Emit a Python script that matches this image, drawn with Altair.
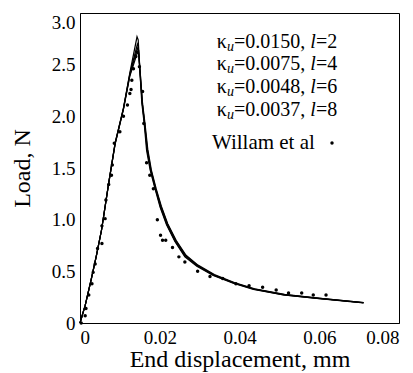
import altair as alt
import pandas as pd

FONT = "Liberation Serif"

# Willam et al experimental points
will_x = [0.0003, 0.0013, 0.0015, 0.0022, 0.0030, 0.0033, 0.0038, 0.0044, 0.0055, 0.0055,
          0.0063, 0.0065, 0.0072, 0.0079, 0.0081, 0.0086, 0.0100, 0.0109, 0.0119, 0.0125,
          0.0128, 0.0130, 0.0134, 0.0140, 0.0144, 0.0149, 0.0157, 0.0160, 0.0167, 0.0175,
          0.0184, 0.0194, 0.0202, 0.0207, 0.0215, 0.0232, 0.0248, 0.0263, 0.0295, 0.0326,
          0.0358, 0.0391, 0.0424, 0.0458, 0.0492, 0.0523, 0.0556, 0.0585, 0.0617]
will_y = [0.00, 0.07, 0.14, 0.27, 0.38, 0.49, 0.57, 0.72, 0.77, 0.94,
          1.01, 1.19, 1.34, 1.43, 1.53, 1.74, 1.85, 2.00, 2.11, 2.22,
          2.26, 2.35, 2.46, 2.58, 2.62, 2.48, 2.24, 1.93, 1.55, 1.43,
          1.30, 1.00, 0.85, 0.80, 0.80, 0.73, 0.64, 0.59, 0.50, 0.45,
          0.43, 0.38, 0.36, 0.345, 0.32, 0.29, 0.29, 0.27, 0.27]

# model curves
l2_x = [0, 0.0013, 0.0028, 0.0041, 0.0054, 0.0071, 0.0088, 0.0109, 0.0125, 0.0143,
        0.0146, 0.0150, 0.0155, 0.0161, 0.0167, 0.0176, 0.0188, 0.0201, 0.0217, 0.0238,
        0.0263, 0.0293, 0.0334, 0.0384, 0.0435, 0.0510, 0.0594, 0.0677, 0.0711]
l2_y = [0, 0.17, 0.42, 0.65, 0.90, 1.33, 1.74, 2.08, 2.42, 2.77,
        2.74, 2.45, 2.13, 1.93, 1.67, 1.48, 1.30, 1.12, 0.95, 0.79,
        0.64, 0.55, 0.46, 0.385, 0.325, 0.272, 0.238, 0.207, 0.195]

l4_x = [0, 0.0013, 0.0028, 0.0041, 0.0054, 0.0071, 0.0088, 0.0109, 0.0125, 0.0144,
        0.0146, 0.0150, 0.0156, 0.0162, 0.0168, 0.0177, 0.0189, 0.0202, 0.0218, 0.0239,
        0.0264, 0.0294, 0.0335, 0.0385, 0.0436, 0.0511, 0.0595, 0.0678, 0.0711]
l4_y = [0, 0.17, 0.42, 0.65, 0.90, 1.33, 1.74, 2.08, 2.41, 2.70,
        2.68, 2.44, 2.13, 1.93, 1.68, 1.48, 1.30, 1.12, 0.95, 0.79,
        0.645, 0.553, 0.462, 0.387, 0.327, 0.273, 0.239, 0.208, 0.196]

l6_x = [0, 0.0013, 0.0028, 0.0041, 0.0054, 0.0071, 0.0088, 0.0109, 0.0125, 0.0144,
        0.0147, 0.0151, 0.0156, 0.0162, 0.0169, 0.0178, 0.0190, 0.0203, 0.0219, 0.0240,
        0.0265, 0.0295, 0.0336, 0.0386, 0.0437, 0.0512, 0.0596, 0.0679, 0.0711]
l6_y = [0, 0.17, 0.42, 0.65, 0.90, 1.33, 1.73, 2.07, 2.40, 2.66,
        2.64, 2.43, 2.13, 1.93, 1.68, 1.48, 1.30, 1.13, 0.96, 0.80,
        0.65, 0.556, 0.465, 0.39, 0.329, 0.275, 0.240, 0.209, 0.197]

l8_x = [0, 0.0013, 0.0028, 0.0041, 0.0054, 0.0071, 0.0088, 0.0109, 0.0125, 0.0145,
        0.0147, 0.0151, 0.0157, 0.0163, 0.0170, 0.0179, 0.0191, 0.0204, 0.0220, 0.0241,
        0.0266, 0.0296, 0.0337, 0.0387, 0.0438, 0.0513, 0.0597, 0.0680, 0.0711]
l8_y = [0, 0.17, 0.42, 0.65, 0.90, 1.33, 1.73, 2.07, 2.39, 2.63,
        2.61, 2.42, 2.12, 1.93, 1.68, 1.48, 1.30, 1.13, 0.96, 0.80,
        0.655, 0.56, 0.468, 0.392, 0.331, 0.277, 0.241, 0.210, 0.198]

series_names = ["l=2", "l=4", "l=6", "l=8"]

# legend text
legend_kappa = ["=0.0150,", "=0.0075,", "=0.0048,", "=0.0037,"]
legend_l = ["=2", "=4", "=6", "=8"]
legend_y = [2.72, 2.51, 2.28, 2.06]
legend_anchor_x = 0.0645
willam_label = "Willam et al"
willam_text_x = 0.0589
willam_dot_x = 0.0632
willam_y = 1.742

x_ticks = [0, 0.02, 0.04, 0.06, 0.08]
y_ticks = [0, 0.5, 1.0, 1.5, 2.0, 2.5, 3.0]

rows = []
for name, xs, ys in zip(series_names, [l2_x, l4_x, l6_x, l8_x], [l2_y, l4_y, l6_y, l8_y]):
    for i, (a, b) in enumerate(zip(xs, ys)):
        rows.append({"x": a, "y": b, "series": name, "order": i})
lines_df = pd.DataFrame(rows)
pts_df = pd.DataFrame({"x": will_x, "y": will_y})
leg_df = pd.DataFrame({"y": legend_y, "kappa": legend_kappa, "lval": legend_l,
                       "xa": [legend_anchor_x] * len(legend_y)})
will_df = pd.DataFrame({"label": [willam_label], "xt": [willam_text_x],
                        "xd": [willam_dot_x], "y": [willam_y]})

xscale = alt.Scale(domain=[0, 0.08], nice=False, zero=False)
yscale = alt.Scale(domain=[0, 3.0], nice=False, zero=False)

xaxis = alt.Axis(title="End displacement, mm", values=x_ticks, grid=False, ticks=False,
                 labelExpr="datum.value == 0 ? '0' : format(datum.value, '.2f')",
                 labelPadding=5, titlePadding=0)
yaxis = alt.Axis(title="Load, N", values=y_ticks, grid=False, ticks=False,
                 labelExpr="datum.value == 0 ? '0' : format(datum.value, '.1f')",
                 labelBaseline={"condition": {"test": "datum.value >= 3", "value": "top"},
                                "value": "middle"},
                 labelPadding=5, titlePadding=17)

lines = alt.Chart(lines_df).mark_line(color="black", strokeWidth=1.2).encode(
    x=alt.X("x:Q", scale=xscale, axis=xaxis),
    y=alt.Y("y:Q", scale=yscale, axis=yaxis),
    detail="series:N",
    order="order:Q",
)

pts = alt.Chart(pts_df).mark_point(filled=True, color="black", size=12, opacity=1).encode(
    x=alt.X("x:Q", scale=xscale),
    y=alt.Y("y:Q", scale=yscale),
)

base_leg = alt.Chart(leg_df)
enc = dict(x=alt.X("xa:Q", scale=xscale), y=alt.Y("y:Q", scale=yscale))
t_lval = base_leg.mark_text(align="right", baseline="middle", font=FONT, fontSize=20,
                            color="black").encode(text="lval:N", **enc)
t_l = base_leg.mark_text(align="right", baseline="middle", font=FONT, fontSize=20,
                         fontStyle="italic", color="black", dx=-21.3).encode(
    text=alt.value("l"), **enc)
t_kappa = base_leg.mark_text(align="right", baseline="middle", font=FONT, fontSize=20,
                             color="black", dx=-32).encode(text="kappa:N", **enc)
t_u = base_leg.mark_text(align="right", baseline="middle", font=FONT, fontSize=14,
                         fontStyle="italic", color="black", dx=-103.3, dy=5).encode(
    text=alt.value("u"), **enc)
t_k = base_leg.mark_text(align="right", baseline="middle", font=FONT, fontSize=20,
                         color="black", dx=-110.3).encode(text=alt.value("κ"), **enc)

base_w = alt.Chart(will_df)
w_text = base_w.mark_text(align="right", baseline="middle", font=FONT, fontSize=21,
                          color="black").encode(
    x=alt.X("xt:Q", scale=xscale), y=alt.Y("y:Q", scale=yscale), text="label:N")
w_dot = base_w.mark_point(filled=True, color="black", size=12, opacity=1).encode(
    x=alt.X("xd:Q", scale=xscale), y=alt.Y("y:Q", scale=yscale))

chart = alt.layer(lines, pts, t_lval, t_l, t_kappa, t_u, t_k, w_text, w_dot).properties(
    width=319, height=310,
    background="white",
    autosize=alt.AutoSizeParams(type="none"),
    padding={"left": 72, "top": 5, "right": 6, "bottom": 54},
).configure_view(stroke="black", strokeWidth=1).configure_axis(
    labelFont=FONT, titleFont=FONT, labelFontSize=19, titleFontSize=24,
    labelColor="black", titleColor="black", domainColor="black", titleFontWeight="normal",
    domainWidth=1,
)

chart.save("out.html", embed_options={"renderer": "svg", "actions": False})
